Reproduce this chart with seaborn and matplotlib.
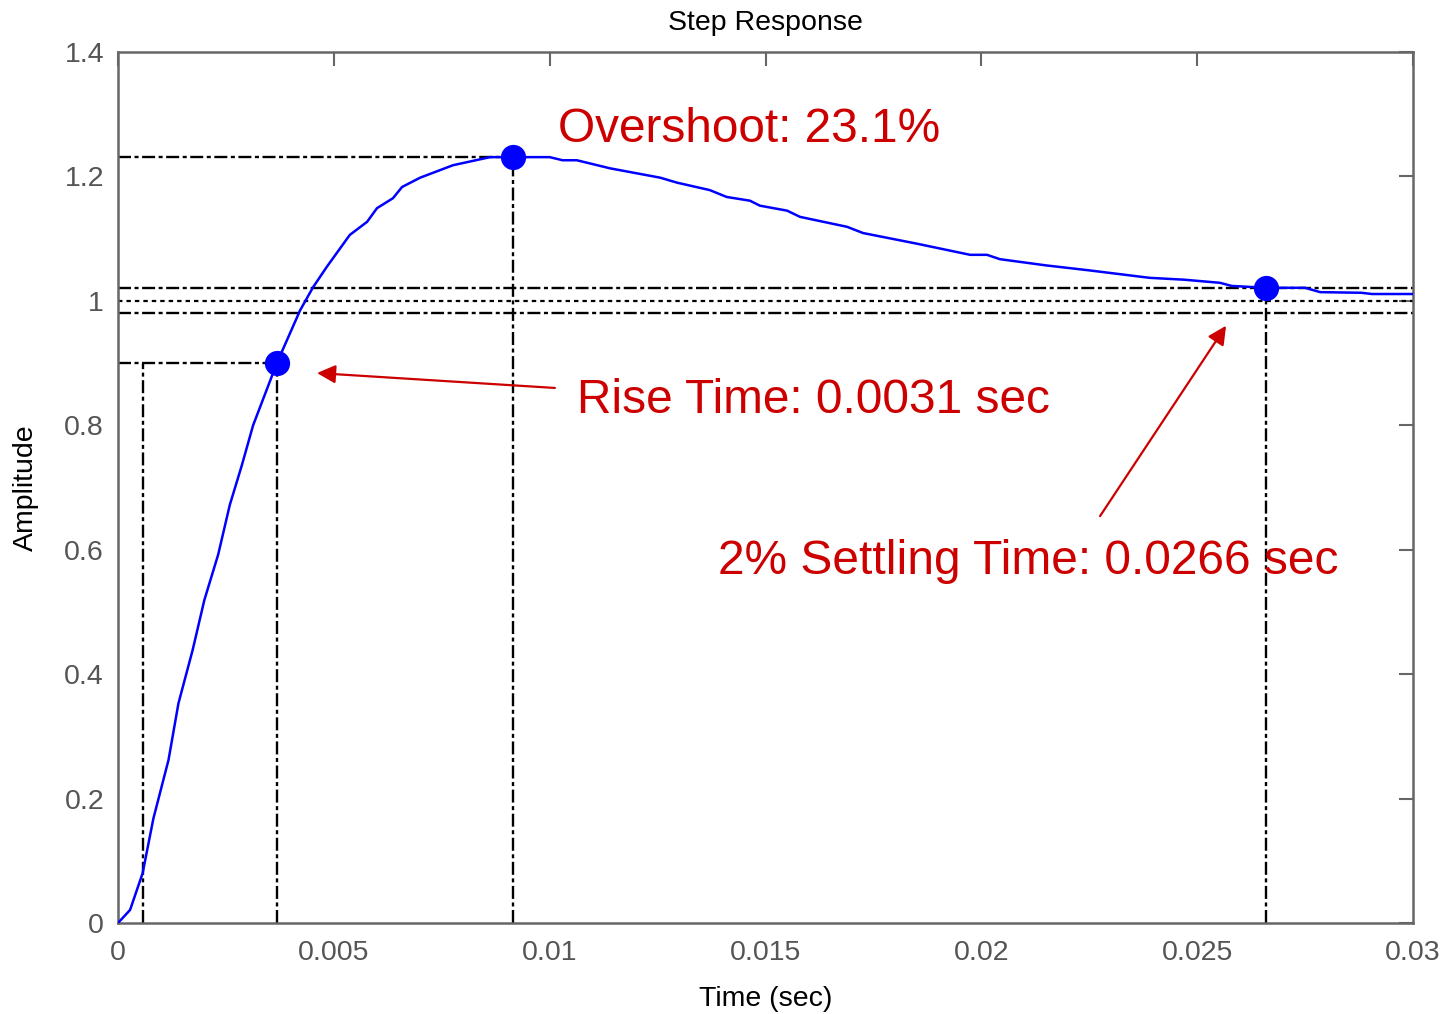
import matplotlib
matplotlib.use("Agg")
import matplotlib.pyplot as plt
import seaborn as sns
import pandas as pd

# Step response samples (time in seconds, amplitude)
time_s = [0, 0.00028, 0.00057, 0.00082, 0.00117, 0.00140, 0.00173, 0.00200,
          0.00232, 0.00259, 0.00287, 0.00313, 0.00340, 0.00368, 0.00422,
          0.00452, 0.00484, 0.00537, 0.00577, 0.00600, 0.00637, 0.00658,
          0.00700, 0.00776, 0.00862, 0.00915, 0.01000, 0.01030, 0.01063,
          0.01140, 0.01256, 0.01295, 0.01371, 0.01410, 0.01464, 0.01487,
          0.01550, 0.01580, 0.01689, 0.01726, 0.01850, 0.01974, 0.02013,
          0.02043, 0.02150, 0.02250, 0.02390, 0.02470, 0.02553, 0.02580,
          0.02660, 0.02750, 0.02785, 0.02880, 0.02905, 0.03000]
amplitude = [0, 0.021, 0.080, 0.168, 0.262, 0.353, 0.439, 0.519,
             0.592, 0.672, 0.736, 0.800, 0.849, 0.900, 0.985,
             1.022, 1.055, 1.106, 1.127, 1.149, 1.165, 1.183,
             1.198, 1.218, 1.231, 1.231, 1.231, 1.226, 1.226,
             1.213, 1.198, 1.190, 1.178, 1.167, 1.161, 1.153,
             1.145, 1.135, 1.119, 1.109, 1.092, 1.074, 1.074,
             1.067, 1.057, 1.049, 1.037, 1.034, 1.029, 1.024,
             1.021, 1.021, 1.014, 1.013, 1.011, 1.011]

# Characteristic points
t10 = 0.00058          # time to reach 10 %
rise_t = 0.00368       # time to reach 90 %
rise_y = 0.90
peak_t = 0.00915
peak_y = 1.231
settle_t = 0.0266
settle_y = 1.021
final_value = 1.0
band = 0.02

xticks = [0, 0.005, 0.01, 0.015, 0.02, 0.025, 0.03]
xtick_labels = ["0", "0.005", "0.01", "0.015", "0.02", "0.025", "0.03"]
yticks = [0, 0.2, 0.4, 0.6, 0.8, 1.0, 1.2, 1.4]
ytick_labels = ["0", "0.2", "0.4", "0.6", "0.8", "1", "1.2", "1.4"]

overshoot_text = "Overshoot: 23.1%"
rise_text = "Rise Time: 0.0031 sec"
settle_text = "2% Settling Time: 0.0266 sec"

sns.set_style("white")
plt.rcParams["font.family"] = ["Liberation Sans", "DejaVu Sans"]

gray = "#666666"
red = "#CC0000"
blue = "#0000FF"

fig = plt.figure(figsize=(14.47, 10.14), dpi=100)
ax = fig.add_axes([118 / 1447, 1 - 923 / 1014, (1413 - 118) / 1447, (923 - 52) / 1014])

df = pd.DataFrame({"t": time_s, "y": amplitude})
sns.lineplot(data=df, x="t", y="y", ax=ax, color=blue, lw=1.8, zorder=3)

# Reference lines
dashdot = (0, (5.5, 1.5, 1.7, 1.5))
dd = dict(color="black", lw=1.7, ls=dashdot, zorder=2)
ax.plot([0, rise_t], [rise_y, rise_y], **dd)
ax.plot([t10, t10], [0, rise_y], **dd)
ax.plot([rise_t, rise_t], [0, rise_y], **dd)
ax.plot([0, peak_t], [peak_y, peak_y], **dd)
ax.plot([peak_t, peak_t], [0, peak_y], **dd)
ax.plot([settle_t, settle_t], [0, settle_y], **dd)
ax.axhline(final_value + band, **dd)
ax.axhline(final_value - band, **dd)
ax.axhline(final_value, color="black", lw=1.6, ls=(0, (2.0, 1.8)), zorder=2)

marks = pd.DataFrame({"t": [rise_t, peak_t, settle_t], "y": [rise_y, peak_y, settle_y]})
sns.scatterplot(data=marks, x="t", y="y", ax=ax, color=blue, s=330,
                edgecolor=blue, linewidth=0, zorder=4)

# Annotations
ax.text(0.0102, 1.2554, overshoot_text, color=red, fontsize=34.4, va="baseline", ha="left")
ax.text(0.01063, 0.8198, rise_text, color=red, fontsize=34.4, va="baseline", ha="left")
ax.text(0.0139, 0.561, settle_text, color=red, fontsize=34.5, va="baseline", ha="left")
arrow = dict(arrowstyle="-|>", color=red, lw=1.6, mutation_scale=28,
             shrinkA=0, shrinkB=0)
ax.annotate("", xy=(0.00461, 0.884), xytext=(0.01012, 0.860), arrowprops=arrow)
ax.annotate("", xy=(0.02567, 0.960), xytext=(0.02275, 0.654), arrowprops=arrow)

ax.set_xlim(0, 0.03)
ax.set_ylim(0, 1.4)
ax.set_xticks(xticks)
ax.set_xticklabels(xtick_labels)
ax.set_yticks(yticks)
ax.set_yticklabels(ytick_labels)
ax.tick_params(direction="in", length=10, width=1.5, color=gray, labelcolor="#555555",
               labelsize=20.5, top=True, right=True)
ax.tick_params(axis="x", pad=12)
ax.tick_params(axis="y", pad=10)
for s in ax.spines.values():
    s.set_visible(True)
    s.set_color(gray)
    s.set_linewidth(1.8)

ax.set_xlabel("Time (sec)", fontsize=20.5, color="black", labelpad=15)
ax.set_ylabel("Amplitude", fontsize=20.5, color="black", labelpad=18)
ax.set_title("Step Response", fontsize=20.5, color="black", pad=16)

fig.savefig("out.png", dpi=100)
